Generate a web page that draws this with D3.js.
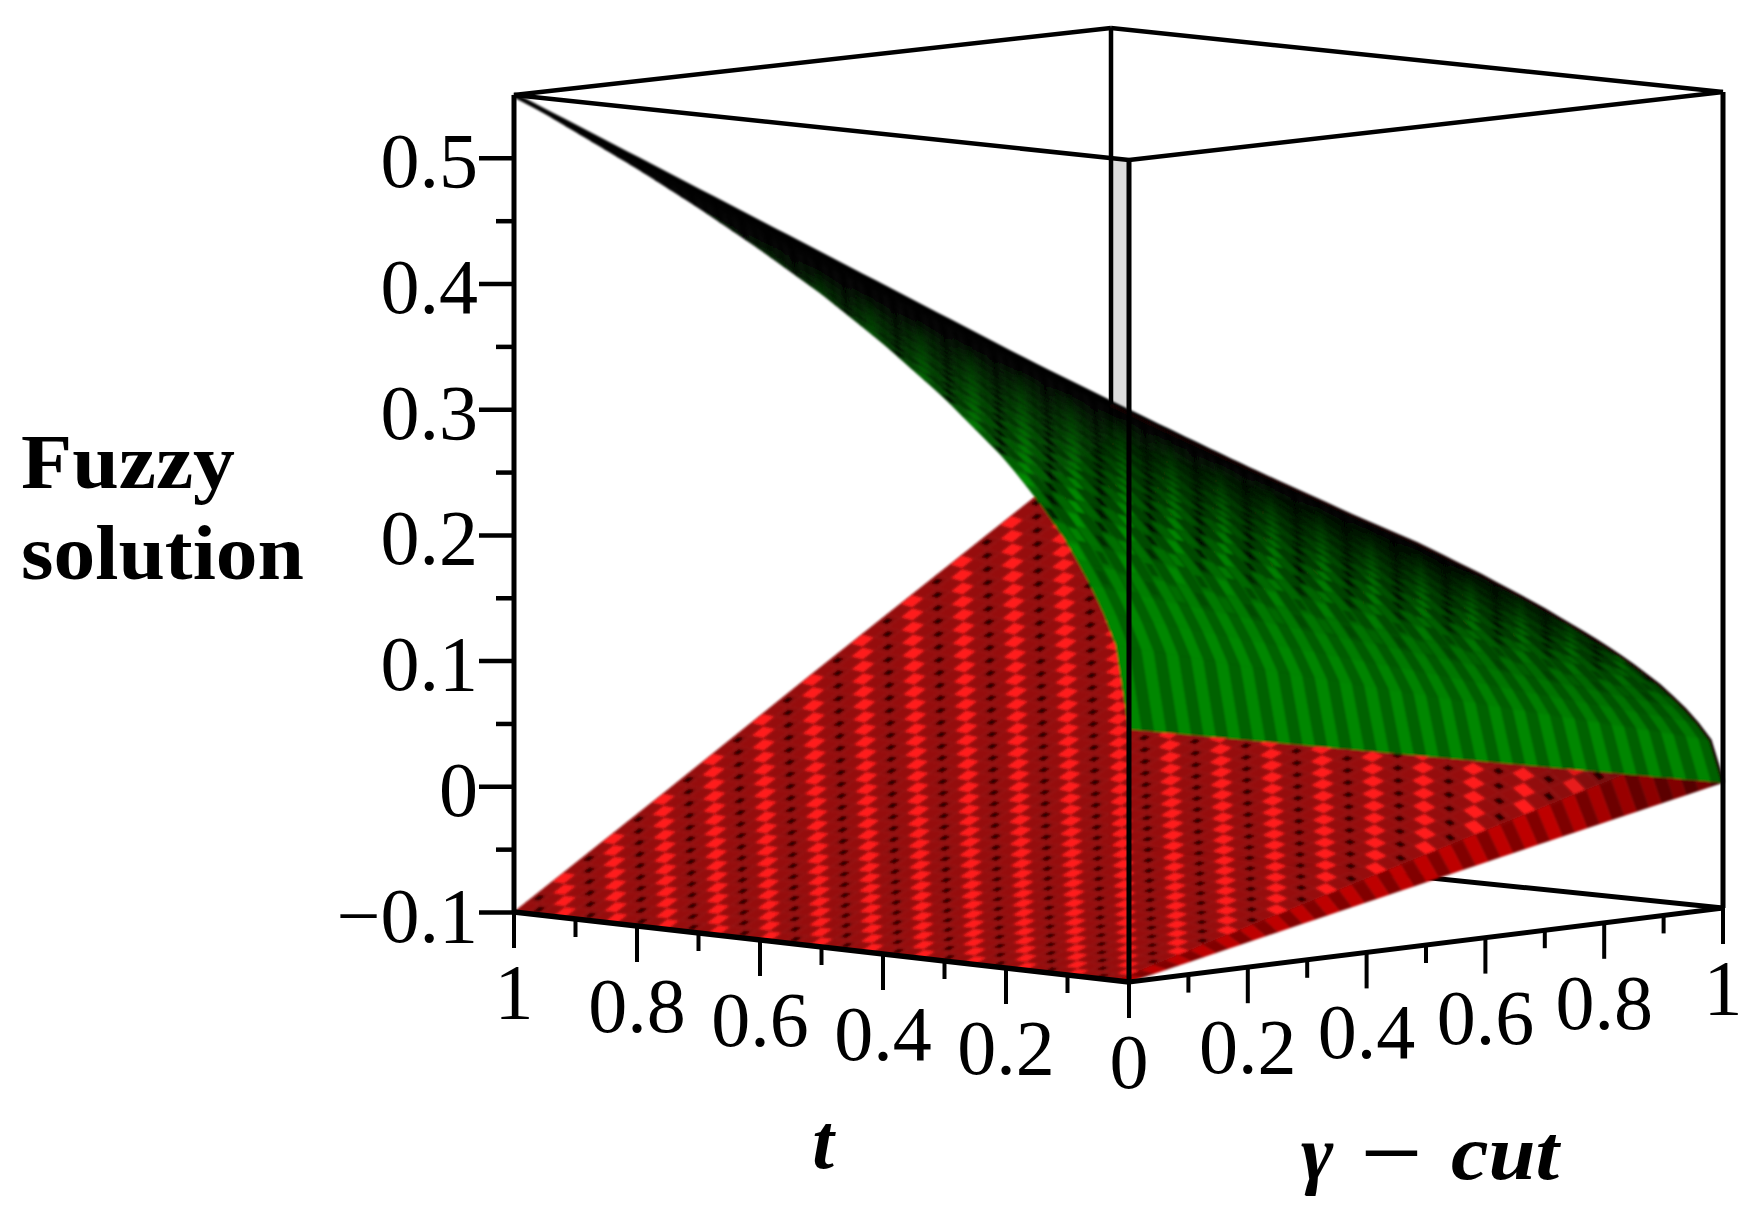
<!DOCTYPE html>
<html><head><meta charset="utf-8">
<script src="https://cdn.jsdelivr.net/npm/d3@7/dist/d3.min.js"></script>
<style>html,body{margin:0;background:#fff}svg{display:block}</style>
</head><body><svg id="c" width="1756" height="1217"></svg>
<script>
// ---- values ----
const zMajorTicks = [-0.1, 0, 0.1, 0.2, 0.3, 0.4, 0.5];
const zMinorTicks = [-0.05, 0.05, 0.15, 0.25, 0.35, 0.45];
const zTickLabels = ["\u22120.1", "0", "0.1", "0.2", "0.3", "0.4", "0.5"];
const floorMajorTicks = [0, 0.2, 0.4, 0.6, 0.8, 1];
const floorMinorTicks = [0.1, 0.3, 0.5, 0.7, 0.9];
const floorTickLabels = ["0", "0.2", "0.4", "0.6", "0.8", "1"];
const tLevels = [0, 0.02, 0.05, 0.1, 0.15, 0.2, 0.3, 0.4, 0.5, 0.6, 0.7, 0.8, 0.9, 1];
const gammaLevels = [0, 0.25, 0.5, 0.75, 1];
// one row per t level, one column per gamma level
const upperSurface = [
 [0.100,0.075,0.050,0.025,0.000],
 [0.164,0.131,0.098,0.065,0.032],
 [0.200,0.162,0.125,0.087,0.050],
 [0.242,0.199,0.157,0.114,0.071],
 [0.274,0.227,0.181,0.134,0.087],
 [0.302,0.252,0.202,0.151,0.101],
 [0.346,0.291,0.236,0.180,0.125],
 [0.384,0.325,0.265,0.206,0.146],
 [0.418,0.355,0.292,0.228,0.165],
 [0.448,0.381,0.315,0.248,0.181],
 [0.476,0.407,0.337,0.268,0.198],
 [0.502,0.430,0.359,0.287,0.215],
 [0.526,0.453,0.379,0.306,0.232],
 [0.550,0.475,0.400,0.325,0.250]];
const lowerSurface = [
 [-0.100,-0.075,-0.050,-0.025,0.000],
 [-0.100,-0.067,-0.034,-0.001,0.032],
 [-0.100,-0.062,-0.025,0.012,0.050],
 [-0.100,-0.057,-0.015,0.028,0.071],
 [-0.100,-0.053,-0.007,0.040,0.087],
 [-0.100,-0.050,0.000,0.051,0.101],
 [-0.100,-0.044,0.012,0.067,0.123],
 [-0.100,-0.040,0.021,0.082,0.142],
 [-0.100,-0.035,0.030,0.094,0.159],
 [-0.100,-0.032,0.037,0.106,0.174],
 [-0.100,-0.028,0.044,0.116,0.188],
 [-0.100,-0.025,0.050,0.126,0.201],
 [-0.100,-0.022,0.057,0.135,0.213],
 [-0.100,-0.019,0.063,0.144,0.225]];

// ---- box projection ----
const zDomain = [-0.1, 0.55];
const corner = {             // floor point and wall height of each vertical box edge
  F:{x:1129,y:982,h:822}, L:{x:514,y:912,h:817},
  R:{x:1723,y:908,h:816}, B:{x:1111,y:845,h:817}};
const unit = d3.scaleLinear().domain(zDomain).range([0,1]);
function project(t,g,z){
  const mix=k=>{
    const a=d3.interpolateNumber(corner.F[k],corner.L[k])(t);
    const b=d3.interpolateNumber(corner.R[k],corner.B[k])(t);
    return d3.interpolateNumber(a,b)(g);
  };
  return [mix("x"), mix("y")-mix("h")*unit(z)];
}
const svg = d3.select("#c");
const defs = svg.append("defs");
[["b1",0.85],["b2",0.6]].forEach(([id,s])=>{
  defs.append("filter").attr("id",id).attr("filterUnits","userSpaceOnUse")
    .attr("x",0).attr("y",0).attr("width",1756).attr("height",1217)
    .append("feGaussianBlur").attr("stdDeviation",s);
});
const back = svg.append("g").attr("filter","url(#b2)");
const surf = svg.append("g").attr("filter","url(#b1)");
const front = svg.append("g").attr("filter","url(#b2)");
const line = d3.line();
const seg=(g,a,b,w)=>g.append("path").attr("d",line([a,b])).attr("stroke","#000").attr("stroke-width",w).attr("fill","none");

// box parts behind the surfaces
const P={ Lb:project(1,0,-0.1),Fb:project(0,0,-0.1),Rb:project(0,1,-0.1),Bb:project(1,1,-0.1),
          Lt:project(1,0,0.55),Ft:project(0,0,0.55),Rt:project(0,1,0.55),Bt:project(1,1,0.55)};
back.append("path").attr("fill","#dcdcdc")
  .attr("d",line([[P.Bt[0],P.Ft[1]],[P.Ft[0],P.Ft[1]],[P.Ft[0],P.Ft[1]+300],[P.Bt[0],P.Ft[1]+300]])+"Z");
seg(back,P.Bt,[P.Bt[0],P.Bb[1]],4.5);
seg(back,P.Bb,P.Rb,5);

// ---- surfaces ----
function surfaceLookup(table){
  const cols = gammaLevels.map((_,c)=>d3.scaleLinear().domain(tLevels).range(table.map(r=>r[c])));
  return (t,g)=>d3.scaleLinear().domain(gammaLevels).range(cols.map(s=>s(t)))(g);
}
const meshCells = 48;                // drawing subdivision of the read table
const meshLevels = d3.range(meshCells+1).map(i=>i/meshCells);
const clamp01=v=>Math.max(0,Math.min(1,v));
const shrink=(q,f)=>{const c=d3.polygonCentroid(q);return q.map(p=>[c[0]+(p[0]-c[0])*f,c[1]+(p[1]-c[1])*f]);};
function poly(g,q,fill,stroked){
  const p=g.append("path").attr("d",line(q)+"Z").attr("fill",fill);
  if(stroked) p.attr("stroke",fill).attr("stroke-width",0.7);
}
function drawSurface(table,style){
  const look=surfaceLookup(table);
  const pts=meshLevels.map(t=>meshLevels.map(g=>project(t,g,look(t,g))));
  const group=surf.append("g");
  for(let i=meshCells-1;i>=0;i--) for(let j=meshCells-1;j>=0;j--){
    const q=[pts[i][j],pts[i+1][j],pts[i+1][j+1],pts[i][j+1]];
    const t=(i+.5)/meshCells,g=(j+.5)/meshCells,k=((i-j)%4+4)%4;
    const s=style(t,g,i,j,k);
    poly(group,q,s.base,true);
    if(s.over) poly(group,shrink(q,s.size),s.over,false);
  }
}
const rgb=(r,g,b)=>`rgb(${Math.round(r)},${Math.round(g)},${Math.round(b)})`;
drawSurface(lowerSurface,(t,g,i,j,k)=>{
  const f=1-0.45*clamp01((g-0.72)/0.28)*clamp01(1-t*3);
  if(i===0) return {base:j%2?rgb(130*f,0,0):rgb(190*f,0,0)};
  if(k===0) return {base:rgb(165*f,14*f,14*f),over:rgb(255*f,28*f,28*f),size:0.86};
  if(k===2) return {base:rgb(145*f,10,10),over:rgb(40,0,0),size:0.46};
  return {base:rgb(150*f,11,11)};
});
drawSurface(upperSurface,(t,g,i,j,k)=>{
  const L=clamp01(1.08-1.45*t-0.8*g*Math.sqrt(t));
  const b=j%2?98:135;
  const m=clamp01((t-0.05)/0.1);       // the mottling fades in away from the t = 0 edge
  if(m===0) return {base:rgb(0,b*L,0)};
  if(k===0) return {base:rgb(0,b*L,0),over:rgb(0,(b+(170-b)*m)*L,0),size:0.72};
  if(k===2) return {base:rgb(0,b*L*(1-.25*m),0),over:rgb(0,(b*(1-m)+22*m)*L,0),size:0.6};
  return {base:rgb(0,b*L*(1-.1*m),0)};
});
// dark rim along the top edge of the upper surface
const upperLook=surfaceLookup(upperSurface);
surf.append("path").attr("fill","none").attr("stroke","#000").attr("stroke-width",4.5)
  .attr("d",line(meshLevels.map(g=>project(1,g,upperLook(1,g)))));
surf.append("path").attr("fill","none").attr("stroke","#140000").attr("stroke-width",3)
  .attr("d",line(meshLevels.map(t=>project(t,1,upperLook(t,1)))));

// ---- axes and box lines on top ----
seg(front,P.Lt,P.Bt,4.5); seg(front,P.Bt,P.Rt,4.5);
seg(front,P.Lt,P.Ft,4.5); seg(front,P.Ft,P.Rt,4.5);
seg(front,P.Lb,P.Fb,5.5); seg(front,P.Fb,P.Rb,5);
seg(front,P.Ft,P.Fb,5);
seg(front,P.Rt,P.Rb,5);
seg(front,P.Lt,P.Lb,5);

const serif='"Liberation Serif","Times New Roman",serif';
const zScale=d3.scaleLinear().domain(zDomain).range([P.Lb[1],P.Lt[1]]);
const zMajor=front.append("g").attr("transform",`translate(${P.Lb[0]},0)`)
  .call(d3.axisLeft(zScale).tickValues(zMajorTicks).tickSize(35).tickPadding(0)
    .tickFormat((d,i)=>zTickLabels[i]));
const zMinor=front.append("g").attr("transform",`translate(${P.Lb[0]},0)`)
  .call(d3.axisLeft(zScale).tickValues(zMinorTicks).tickSize(18).tickFormat(""));
[zMajor,zMinor].forEach(a=>{
  a.select(".domain").remove();
  a.selectAll("line").attr("stroke","#000").attr("stroke-width",4.5);
});
zMajor.selectAll("text").attr("font-family",serif).attr("font-size",78).attr("fill","#000")
  .attr("dy",null).attr("y",29).attr("x",-36);

const labels=svg.append("g").attr("filter","url(#b2)").attr("font-family",serif).attr("font-size",78).attr("fill","#000");
function floorAxis(at,skipZero){
  floorMinorTicks.forEach(v=>{const p=at(v);seg(front,p,[p[0],p[1]+18],4);});
  floorMajorTicks.forEach((v,i)=>{
    const p=at(v);
    seg(front,p,[p[0],p[1]+36],4);
    if(!(skipZero&&v===0))
      labels.append("text").attr("x",p[0]).attr("y",p[1]+106).attr("text-anchor","middle").text(floorTickLabels[i]);
  });
}
floorAxis(v=>project(v,0,-0.1),false);
floorAxis(v=>project(0,v,-0.1),true);

const bold=labels.append("g").attr("font-weight","bold");
bold.append("text").attr("x",21).attr("y",488).attr("textLength",214).attr("lengthAdjust","spacingAndGlyphs").text("Fuzzy");
bold.append("text").attr("x",21).attr("y",579).attr("textLength",283).attr("lengthAdjust","spacingAndGlyphs").text("solution");
const ital=bold.append("g").attr("font-style","italic");
ital.append("text").attr("x",823).attr("y",1168).attr("text-anchor","middle").text("t");
ital.append("text").attr("x",1301).attr("y",1179).text("\u03b3");
bold.append("text").attr("x",1360).attr("y",1179).attr("textLength",63).attr("lengthAdjust","spacingAndGlyphs").text("\u2212");
ital.append("text").attr("x",1451).attr("y",1179).attr("textLength",108).attr("lengthAdjust","spacingAndGlyphs").text("cut");
</script></body></html>
